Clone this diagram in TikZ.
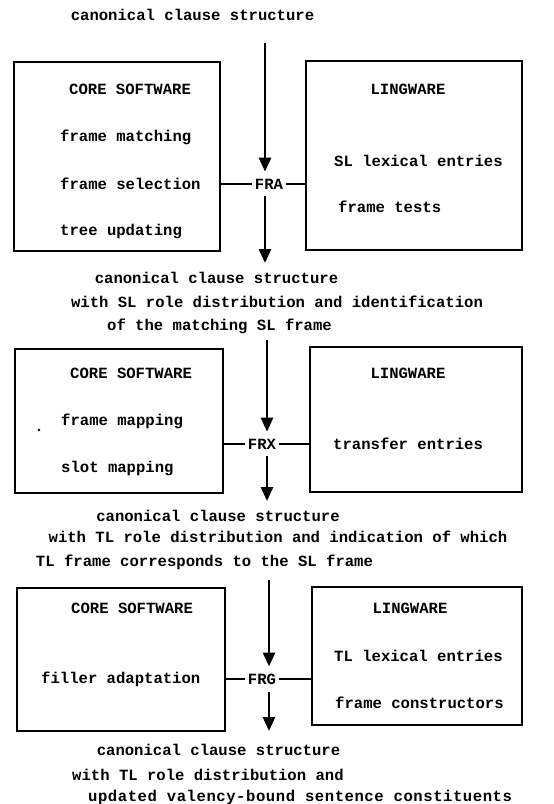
\documentclass[tikz,border=0pt]{standalone}
\usepackage{fontspec}
\setmainfont{Liberation Mono}
\usetikzlibrary{arrows.meta}
\begin{document}
\begin{tikzpicture}[x=1pt,y=-1pt,
  every node/.style={font=\fontsize{15.6}{18}\selectfont\bfseries, inner sep=0pt},
  box/.style={draw, line width=2.8pt, rectangle},
  lbl/.style={anchor=west},
  mod/.style={inner xsep=3pt, inner ysep=7pt},
  flow/.style={line width=2.8pt, -{Triangle[width=12pt,length=14pt]}},
  link/.style={line width=2.8pt}]
\useasboundingbox (0,0) rectangle (554,804);
\fill[white] (0,0) rectangle (554,804);

% ---------- section 1
\node (t1) at (192.5,15) {canonical clause structure};
\node[box, minimum width=206pt, minimum height=189pt] (core1) at (117,156.5) {};
\node[box, minimum width=216pt, minimum height=189pt] (ling1) at (414,155.5) {};
\node[lbl] (c1h) at (69,89) {CORE SOFTWARE};
\node[lbl] (c1a) at (60,137) {frame matching};
\node[lbl] (c1b) at (60,184) {frame selection};
\node[lbl] (c1c) at (60,231) {tree updating};
\node (l1h) at (408,89) {LINGWARE};
\node[lbl] (l1a) at (334,161) {SL lexical entries};
\node[lbl] (l1b) at (338,207) {frame tests};
\node[mod] (FRA) at (269,184) {FRA};
\coordinate (a1s) at (265,43);
\coordinate (a2e) at (265,263);
\draw[flow] (a1s) -- (a1s |- FRA.north);
\draw[flow] (a1s |- FRA.south) -- (a2e);
\draw[link] (core1.east |- FRA) -- (FRA.west);
\draw[link] (FRA.east) -- (ling1.west |- FRA);

% ---------- section 2
\node (t2a) at (216.5,278) {canonical clause structure};
\node (t2b) at (277,302) {with SL role distribution and identification};
\node (t2c) at (219.5,326) {of the matching SL frame};
\node[box, minimum width=208pt, minimum height=144pt] (core2) at (119,421) {};
\node[box, minimum width=212pt, minimum height=145pt] (ling2) at (416,419.5) {};
\node[lbl] (c2h) at (70,373) {CORE SOFTWARE};
\node[lbl] (c2a) at (61,421) {frame mapping};
\node[lbl] (c2b) at (61,468) {slot mapping};
\node (l2h) at (408,373) {LINGWARE};
\node[lbl] (l2a) at (333,444) {transfer entries};
\fill (39,430) circle (1.3pt);
\node[mod] (FRX) at (262,444) {FRX};
\coordinate (a3s) at (267,340);
\coordinate (a4e) at (267,501);
\draw[flow] (a3s) -- (a3s |- FRX.north);
\draw[flow] (a3s |- FRX.south) -- (a4e);
\draw[link] (core2.east |- FRX) -- (FRX.west);
\draw[link] (FRX.east) -- (ling2.west |- FRX);

% ---------- section 3
\node (t3a) at (218,516) {canonical clause structure};
\node (t3b) at (278,537) {with TL role distribution and indication of which};
\node (t3c) at (204.5,562) {TL frame corresponds to the SL frame};
\node[box, minimum width=208pt, minimum height=143pt] (core3) at (121,659.5) {};
\node[box, minimum width=210pt, minimum height=138pt] (ling3) at (417,656) {};
\node[lbl] (c3h) at (71,608) {CORE SOFTWARE};
\node[lbl] (c3a) at (41,679) {filler adaptation};
\node (l3h) at (410,608) {LINGWARE};
\node[lbl] (l3a) at (334,656) {TL lexical entries};
\node[lbl] (l3b) at (335,703) {frame constructors};
\node[mod] (FRG) at (262,679) {FRG};
\coordinate (a5s) at (269,580);
\coordinate (a6e) at (269,731);
\draw[flow] (a5s) -- (a5s |- FRG.north);
\draw[flow] (a5s |- FRG.south) -- (a6e);
\draw[link] (core3.east |- FRG) -- (FRG.west);
\draw[link] (FRG.east) -- (ling3.west |- FRG);

\node (t4a) at (218.5,750) {canonical clause structure};
\node[lbl] (t4b) at (72,775) {with TL role distribution and};
\node[lbl] (t4c) at (88,797) {\addfontfeature{LetterSpace=3.5}updated valency-bound sentence constituents};
\end{tikzpicture}
\end{document}
